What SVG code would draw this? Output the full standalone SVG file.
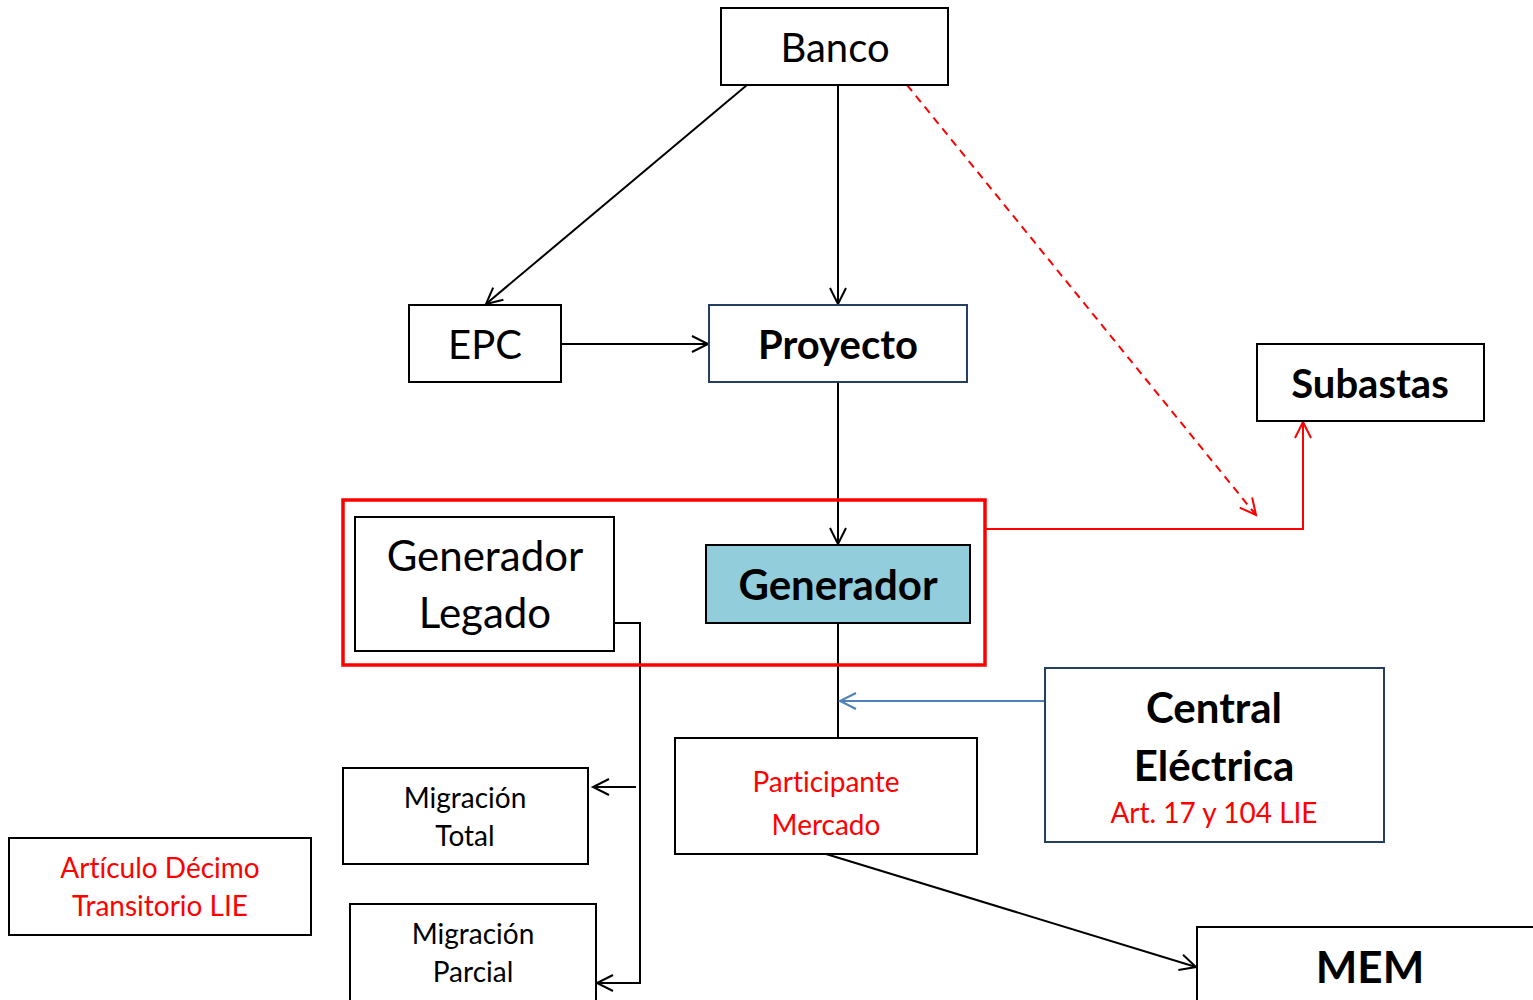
<svg xmlns="http://www.w3.org/2000/svg" width="1533" height="1000" viewBox="0 0 1533 1000">
<defs>
<style>
.box{fill:#fff;stroke:#000;stroke-width:2}
.bbox{fill:#fff;stroke:#243F60;stroke-width:2}
.t{font-family:Lato,"Noto Sans","Liberation Sans",sans-serif;text-anchor:middle;fill:#000;font-variant-ligatures:none}
.b{font-weight:bold}
.red{fill:#FF0000}
.c{fill:none;stroke:#000;stroke-width:2}
</style>
<marker id="ak" markerUnits="userSpaceOnUse" markerWidth="20" markerHeight="20" refX="17" refY="9" orient="auto" viewBox="0 0 20 18"><path d="M1,1 L17,9 L1,17" fill="none" stroke="#000" stroke-width="2"/></marker>
<marker id="ar" markerUnits="userSpaceOnUse" markerWidth="20" markerHeight="20" refX="17" refY="9" orient="auto" viewBox="0 0 20 18"><path d="M1,1 L17,9 L1,17" fill="none" stroke="#FF0000" stroke-width="2"/></marker>
<marker id="ab" markerUnits="userSpaceOnUse" markerWidth="20" markerHeight="20" refX="17" refY="9" orient="auto" viewBox="0 0 20 18"><path d="M1,1 L17,9 L1,17" fill="none" stroke="#4F81BD" stroke-width="2"/></marker>
</defs>
<rect width="1533" height="1000" fill="#fff"/>
<g id="connectors">
<line class="c" x1="747" y1="85" x2="486" y2="304" marker-end="url(#ak)"/>
<line class="c" x1="838" y1="82" x2="838" y2="304" marker-end="url(#ak)"/>
<line x1="907" y1="85" x2="1256" y2="515" stroke="#FF0000" stroke-width="2" stroke-dasharray="8,6" marker-end="url(#ar)"/>
<line class="c" x1="561" y1="344" x2="708" y2="344" marker-end="url(#ak)"/>
<line class="c" x1="838" y1="382" x2="838" y2="544" marker-end="url(#ak)"/>
<polyline points="985,529 1303,529 1303,422" fill="none" stroke="#FF0000" stroke-width="2" marker-end="url(#ar)"/>
<line class="c" x1="838" y1="623" x2="838" y2="738"/>
<line x1="1045" y1="701" x2="840" y2="701" stroke="#4F81BD" stroke-width="2" marker-end="url(#ab)"/>
<polyline class="c" points="614,623 640,623 640,983 597,983" marker-end="url(#ak)"/>
<line class="c" x1="636" y1="787" x2="593" y2="787" marker-end="url(#ak)"/>
<line class="c" x1="826" y1="854" x2="1196" y2="967" marker-end="url(#ak)"/>
</g>
<g id="grupo-generadores"><rect x="343" y="500" width="642" height="165" fill="none" stroke="#FF0000" stroke-width="3.5"/></g>
<g id="banco"><rect class="box" x="721" y="8" width="227" height="77"/><text class="t" x="835" y="62" font-size="40">Banco</text></g>
<g id="epc"><rect class="box" x="409" y="305" width="152" height="77"/><text class="t" x="485" y="359" font-size="40">EPC</text></g>
<g id="proyecto"><rect class="bbox" x="709" y="305" width="258" height="77"/><text class="t b" x="838" y="359" font-size="40">Proyecto</text></g>
<g id="subastas"><rect class="box" x="1257" y="344" width="227" height="77"/><text class="t b" x="1370" y="398" font-size="40">Subastas</text></g>
<g id="generador-legado"><rect class="box" x="355" y="517" width="259" height="134"/><text class="t" x="485" y="571" font-size="42">Generador</text><text class="t" x="485" y="628" font-size="42">Legado</text></g>
<g id="generador"><rect x="706" y="545" width="264" height="78" fill="#92CDDC" stroke="#000" stroke-width="2"/><text class="t b" x="838" y="600" font-size="42">Generador</text></g>
<g id="central-electrica"><rect class="bbox" x="1045" y="668" width="339" height="174"/><text class="t b" x="1214" y="723" font-size="42">Central</text><text class="t b" x="1214" y="781" font-size="42">Eléctrica</text><text class="t red" x="1214" y="823" font-size="28">Art. 17 y 104 LIE</text></g>
<g id="participante-mercado"><rect class="box" x="675" y="738" width="302" height="116"/><text class="t red" x="826" y="792" font-size="28">Participante</text><text class="t red" x="826" y="835" font-size="28">Mercado</text></g>
<g id="migracion-total"><rect class="box" x="343" y="768" width="245" height="96"/><text class="t" x="465" y="808" font-size="28">Migración</text><text class="t" x="465" y="846" font-size="28">Total</text></g>
<g id="migracion-parcial"><rect class="box" x="350" y="904" width="246" height="110"/><text class="t" x="473" y="944" font-size="28">Migración</text><text class="t" x="473" y="982" font-size="28">Parcial</text></g>
<g id="articulo"><rect class="box" x="9" y="838" width="302" height="97"/><text class="t red" x="160" y="878" font-size="28">Artículo Décimo</text><text class="t red" x="160" y="916" font-size="28">Transitorio LIE</text></g>
<g id="mem"><rect class="box" x="1197" y="927" width="350" height="90"/><text class="t b" x="1370" y="983" font-size="44">MEM</text></g>
</svg>
